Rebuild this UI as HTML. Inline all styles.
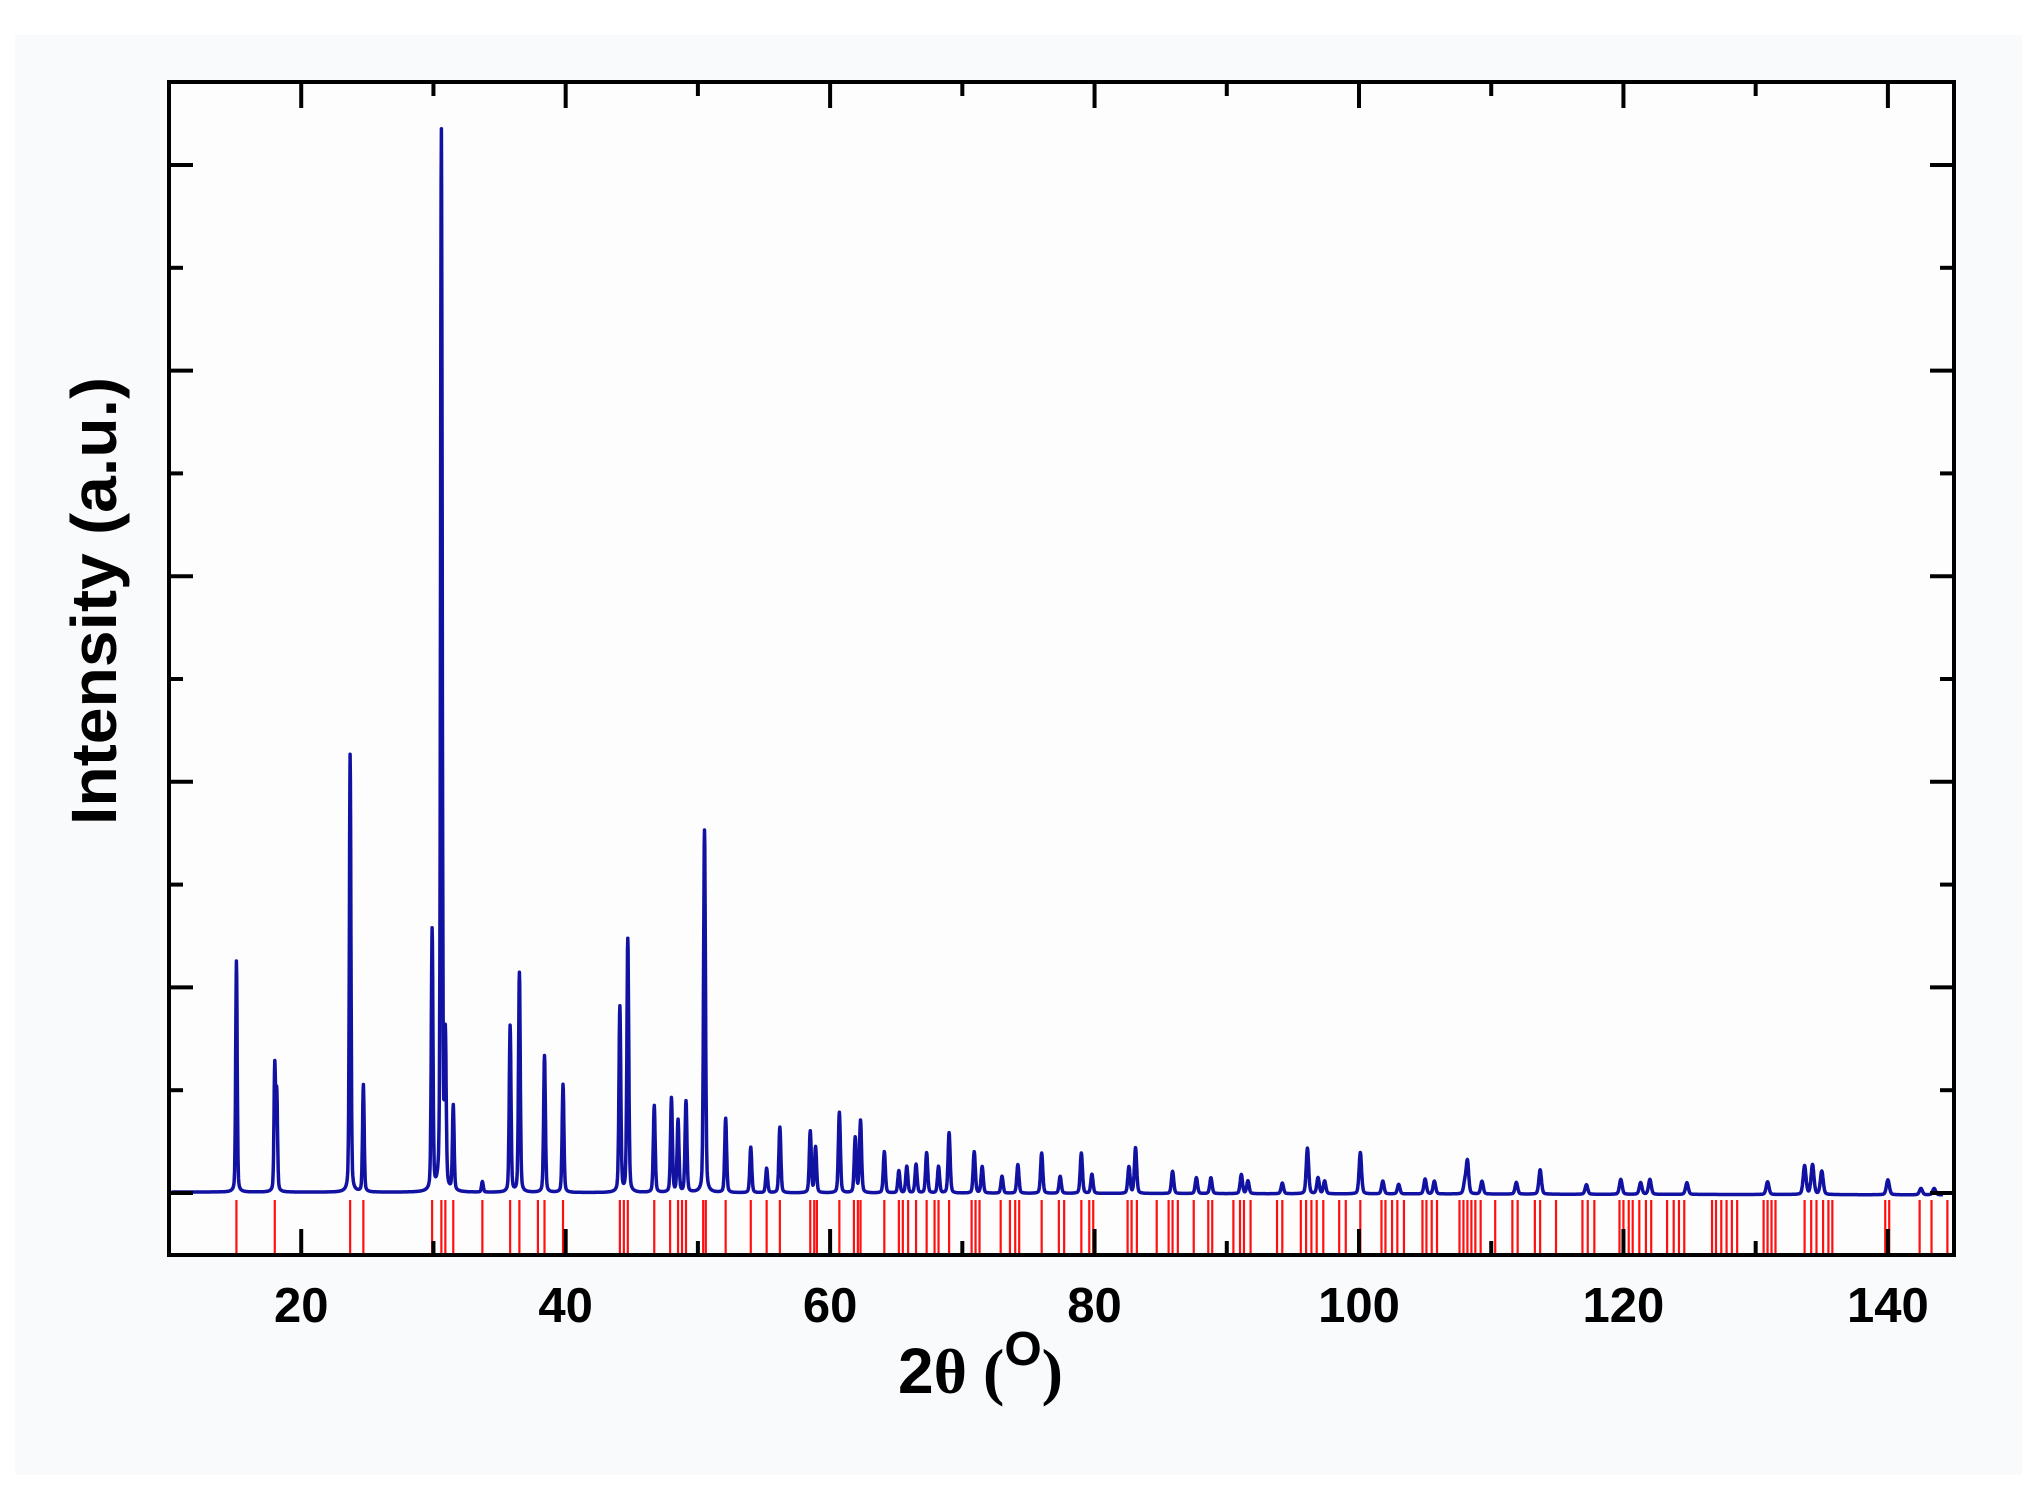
<!DOCTYPE html>
<html><head><meta charset="utf-8"><style>
html,body{margin:0;padding:0;background:#fff;}
svg{display:block;}
</style></head><body>
<svg id="chart" width="2037" height="1510" viewBox="0 0 2037 1510" xmlns="http://www.w3.org/2000/svg">
<rect x="0" y="0" width="2037" height="1510" fill="#ffffff"/>
<rect x="15" y="35" width="2007" height="1440" fill="#f8fafc"/>
<rect x="169" y="82" width="1785" height="1173" fill="#fdfdfe"/>
<g id="sticks"></g>
<path id="pattern" fill="none" stroke="#1212a2" stroke-width="3.5" stroke-linejoin="round"/>
<g id="axes"></g>
<text transform="translate(116,601) rotate(-90)" text-anchor="middle" font-family="Liberation Sans, sans-serif" font-weight="bold" font-size="64" textLength="448" lengthAdjust="spacingAndGlyphs" fill="#000">Intensity (a.u.)</text>
<text x="898" y="1393" font-family="Liberation Sans, sans-serif" font-size="64" fill="#000"><tspan font-weight="bold">2</tspan><tspan font-family="Liberation Serif, serif" font-weight="bold">θ (</tspan><tspan font-weight="bold" font-size="48" dy="-28">O</tspan><tspan font-family="Liberation Serif, serif" font-weight="bold" dy="28">)</tspan></text>
</svg>
<script>
const xTicks = [20, 40, 60, 80, 100, 120, 140];
const peakPos = [15.1,18.0,18.15,23.7,24.7,29.9,30.6,30.9,31.5,33.7,35.8,36.5,38.4,39.8,44.1,44.7,46.7,48.0,48.5,49.1,50.5,52.1,54.0,55.2,56.2,58.5,58.9,60.7,61.9,62.3,64.1,65.2,65.8,66.5,67.3,68.2,69.0,70.9,71.5,73.0,74.2,76.0,77.4,79.0,79.8,82.6,83.1,85.9,87.7,88.8,91.1,91.6,94.2,96.1,96.9,97.4,100.1,101.8,103.0,105.0,105.7,108.0,108.2,109.3,111.9,113.7,117.2,119.8,121.3,122.0,124.8,130.9,133.7,134.3,135.0,140.0,142.5,143.5];
const peakInt = [218,117,90,413,101,246,1000,140,80,10,157,207,129,102,175,239,82,89,68,86,342,70,43,23,62,58,43,76,52,68,39,21,25,27,38,25,57,39,25,16,27,38,16,38,18,25,43,21,15,15,18,12,10,43,15,12,39,12,9,14,12,10,31,12,11,23,9,14,11,14,11,12,27,28,22,14,6,6];
const stickPos = [15.1,18.0,23.7,24.7,29.9,30.6,30.9,31.5,33.7,35.8,36.5,37.9,38.4,39.8,44.1,44.4,44.7,46.7,47.9,48.5,48.8,49.1,50.4,50.6,52.1,54.0,55.2,56.2,58.5,58.8,59.0,60.7,61.8,62.1,62.3,64.1,65.2,65.5,65.9,66.5,67.3,67.9,68.2,69.0,70.7,71.0,71.3,72.9,73.6,74.0,74.3,76.0,77.3,77.7,79.0,79.6,79.9,82.5,82.8,83.2,84.7,85.6,85.9,86.3,87.5,88.6,88.9,90.5,91.0,91.3,91.8,93.8,94.2,95.6,96.0,96.4,96.8,97.3,98.5,99.0,100.1,101.7,102.0,102.5,102.9,103.4,104.8,105.1,105.5,105.9,107.6,107.9,108.2,108.5,108.8,109.2,110.3,111.6,112.0,113.3,113.7,114.9,116.9,117.3,117.8,119.7,120.0,120.4,120.7,121.2,121.7,122.1,123.3,123.8,124.2,124.6,126.7,127.0,127.4,127.8,128.2,128.6,130.6,130.9,131.2,131.5,133.7,134.2,134.6,135.1,135.5,135.8,139.8,140.1,142.4,143.3,144.5];

const X0 = 10, X1 = 145, PL = 169, PR = 1954, PT = 82, PB = 1255;
function xs(v){ return PL + (v - X0) * (PR - PL) / (X1 - X0); }
const YBASE = 1192, YTOP = 132;
function ys(i){ return YBASE - i * (YBASE - YTOP) / 1000; }
const NS = 'http://www.w3.org/2000/svg';
function mk(tag, attrs, parent){ const e = document.createElementNS(NS, tag); for (const k in attrs) e.setAttribute(k, attrs[k]); parent.appendChild(e); return e; }

// pattern
let d = '';
for (let t = X0 + 0.2; t <= 144.2; t += 0.02) {
  let s = 0;
  for (let k = 0; k < peakPos.length; k++) {
    const w = 0.06 + 0.0005 * peakPos[k];
    const u = (t - peakPos[k]) / w;
    s += peakInt[k] * (0.7 * Math.exp(-0.693 * u * u) + 0.3 / (1 + u * u));
  }
  const base = -(t - 10) * 0.02;
  d += (d ? 'L' : 'M') + xs(t).toFixed(1) + ',' + ys(s + base).toFixed(1);
}
document.getElementById('pattern').setAttribute('d', d);

// sticks
const sg = document.getElementById('sticks');
stickPos.forEach(p => {
  const l = mk('line', {x1: xs(p), x2: xs(p), y1: 1200, y2: PB, stroke: '#ff1010', 'stroke-width': 2.2}, sg);
  
  
});

// axes
const ag = document.getElementById('axes');
const frame = mk('rect', {x: PL, y: PT, width: PR - PL, height: PB - PT, fill: 'none', stroke: '#000', 'stroke-width': 4}, ag);


for (let v = 20; v <= 140; v += 10) {
  const major = v % 20 === 0;
  const len = major ? 26 : 14;
  const x = xs(v);
  const b = mk('line', {x1: x, x2: x, y1: PB, y2: PB - len, stroke: '#000', 'stroke-width': 4}, ag);
  
  
  const t = mk('line', {x1: x, x2: x, y1: PT, y2: PT + len, stroke: '#000', 'stroke-width': 4}, ag);
  
  
}
xTicks.forEach(v => {
  const tx = mk('text', {x: xs(v), y: 1322, 'text-anchor': 'middle', 'font-family': 'Liberation Sans, sans-serif', 'font-weight': 'bold', 'font-size': 49, fill: '#000'}, ag);
  tx.textContent = v;
  
  
});
for (let k = 0; k <= 10; k++) {
  const y = 165 + k * 102.8;
  const len = k % 2 === 0 ? 24 : 14;
  const l = mk('line', {x1: PL, x2: PL + len, y1: y, y2: y, stroke: '#000', 'stroke-width': 4}, ag);
  
  
  const r = mk('line', {x1: PR, x2: PR - len, y1: y, y2: y, stroke: '#000', 'stroke-width': 4}, ag);
  
  
}
</script>
</body></html>
